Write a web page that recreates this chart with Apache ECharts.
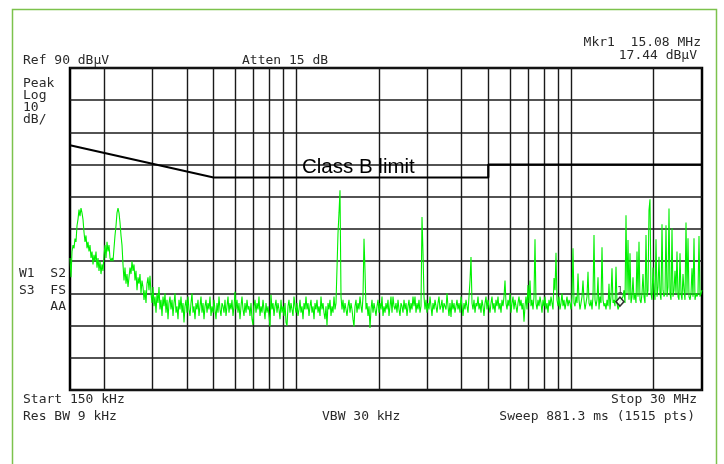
<!DOCTYPE html>
<html><head><meta charset="utf-8">
<script src="https://cdn.jsdelivr.net/npm/echarts@6/dist/echarts.min.js"></script>
<style>html,body{margin:0;padding:0;background:#fff}#c{width:724px;height:464px}</style>
</head><body><div id="c"></div>
<script>
// Frequency axis (MHz, log) and level axis (dBµV)
const freqStartMHz = 0.15, freqStopMHz = 30;
const levelMin = -10, levelMax = 90, levelStep = 10;
const gridFreqsMHz = [0.2,0.3,0.4,0.5,0.6,0.7,0.8,0.9,1,2,3,4,5,6,7,8,9,10,20];

// Class B limit
const limitFreqMHz = [0.15, 0.5, 5, 5, 30];
const limitDbuv    = [66,   56,  56, 60, 60];

// Marker
const markerFreqMHz = 15.08, markerDbuv = 17.44;

// Trace (sweep points, log-spaced from start to stop), dBµV
const traceDbuv = [
 31,25,33,35,34,37,36,41,43,46,
 44,46.5,45,43,39,36,38,34,36,33,
 35,31,33,29,32,30,33,28,31,27,
 30,26,29,27,32,35,31,36,33,35,
 31,30,31,30,34,38,41,45,46.5,45,
 42,38,35,29,24,28,23,26,22,25,
 28,26,30,27,29,24,27,21,25,23,
 26,20,24,22,18,21,17,23,25,21,
 25.5,20,17,22,16,19,14,20,17,22,
 15,18,13,19,16,20,14,18,12,17,
 19,15,18,13,17,20,14,16,12,18,
 15,19,14,17,11,16,18,14,19,15,
 13,17,20,14,16,12,17,
 15,18,13,16,19,14,17,12,16,18,
 14,17,15,19,13,16,14,18,15,12,
 17,14,19,15,13,17,16,14,18,13,
 16,19,14,17,15,18,13,16,20.5,15,
 18,14,17,12,16,19,15,13,17,14,
 18,15,16,13,17,12,10.2,16,18,14,
 17,15,19,13,16,14,18,15,12,17,
 14,16,13,9.7,19.6,15,17,13,16,18,
 14,17,15,12,18,14,16,13,17,11,
 10,16,18,14,17,15,13,19,16,14,
 17,13,15,18,14,16,12,17,15,19,
 15,17,13,16,18,14,16,12,17,15,
 18,14,16,13,19,15,17,14,12,16,
 10,17,15,18,13,16,14,19,15,17,
 17,38.7,45,52,19,15,18,14,17,15,
 13,16,18,14,17,15,12,9.7,16,18,
 14,17,15,19,16,14,19,37,27,15,
 17,13,16,9.3,15,18,14,17,15,13,
 16,18,14,17,15,19,13,16,14,17,
 15,18,13,16,19,14,19,16,15,17,
 14,18,15,13,17,16,14,18,15,17,
 13,16,18,14,17,15,19,16,19,14,
 17,15,18,14,16,43.7,32.6,19,15,18,
 14,17,15,19,16,13,17,15,18,16,
 14,17,19,15,16,18,14,17,16,15,
 20,16,13,17,12.7,18,15,17,14,16,
 18,15,17,14,19,16,13,17,15,18,
 16,14,19,24,31.3,17,15,18,14,17,
 16,19,15,17,14,18,16,13,17,19,
 15,18,16,14,17,19,15,17,14,18,
 16,19,15,17,14,18,16,19,24,17,
 15,18,16,20,14,17,19,15,18,16,
 14,17,19,16,18,15,17,11.2,16,19,
 15,22.6,17,24,16,18,15,19,36.8,17,
 15,18,16,19,17,14,18,16,19,15,
 17,14,18,16,19,17,15,24.8,21,32.6,
 18,16,19,15,17,20,16,18,15,17,
 19,16,18,17,15,19,34,17,16,19,
 17,26.2,18,15,17,19,24,18,15,17,
 19,26.7,17,16,18,15,19,38.1,18,16,
 18,25,15,19,17,34.3,18,16,17,15,
 18,16,23,15,19,27.8,17,18,16,28.3,
 17,15,16,17.4,18,17,19,21,17,44.3,
 20,36.6,18,32.5,17,19,25,18,20,17,
 33,19,36,18,17,20,26,19,17,38.1,
 19,21,45.9,49.2,20,18,28,21,18,36.8,
 19,22,31.4,20,18,41.5,21,19,20,41.2,
 19,22,46.4,20,18,40.2,19,21,27,20,
 33,19,18,32.5,20,18,26,21,18,42,
 20,37.1,19,18,20,27.8,19,37.1,18,20,
 19,20,37.8,19,20,21
];

// Annotation texts
const textsLeft = [
 ['Ref 90 dBµV', 23, 61], ['Atten 15 dB', 242, 61],
 ['Peak', 23, 84], ['Log', 23, 96], ['10', 23, 108], ['dB/', 23, 120],
 ['Start 150 kHz', 23, 400], ['Res BW 9 kHz', 23, 417], ['VBW 30 kHz', 322, 417]
];
const textsRight = [
 ['Mkr1  15.08 MHz', 701, 43], ['17.44 dBµV', 697, 56],
 ['W1  S2', 66, 274], ['S3  FS', 66, 291], ['AA', 66, 307],
 ['Stop 30 MHz', 697, 400], ['Sweep 881.3 ms (1515 pts)', 695, 417]
];
const limitLabel = 'Class B limit';

const monoFont = '13px "DejaVu Sans Mono"';
function txt(t, x, y, align) {
  return {type:'text', x:x, y:y, z:100, silent:true,
    style:{text:t, font:monoFont, fill:'#2a2a2a', textAlign:align, align:align,
           textVerticalAlign:'middle', verticalAlign:'middle'}};
}
const graphics = [
  {type:'rect', shape:{x:12.5, y:9.5, width:704, height:490}, z:-1, silent:true,
   style:{fill:'none', stroke:'#7cc24c', lineWidth:1.5}}
];
textsLeft.forEach(a => graphics.push(txt(a[0], a[1], a[2], 'left')));
textsRight.forEach(a => graphics.push(txt(a[0], a[1], a[2], 'right')));
graphics.push({type:'text', x:302, y:167, z:100, silent:true,
  style:{text:limitLabel, font:'20.5px "Liberation Sans", Arial, sans-serif', fill:'#000',
         textAlign:'left', align:'left', textVerticalAlign:'middle', verticalAlign:'middle'}});

const traceIdx = traceDbuv.map((_, i) => i);

const chart = echarts.init(document.getElementById('c'));
chart.setOption({
  animation:false,
  backgroundColor:'#fff',
  grid:{left:70, top:68, width:632, height:322, show:true, borderColor:'#000', borderWidth:2.5, backgroundColor:'transparent'},
  xAxis:[
    {type:'log', logBase:10, min:freqStartMHz, max:freqStopMHz,
     axisLine:{show:false}, axisTick:{show:false}, axisLabel:{show:false}, splitLine:{show:false}},
    {type:'category', data:traceIdx, boundaryGap:false, show:false}
  ],
  yAxis:{type:'value', min:levelMin, max:levelMax, interval:levelStep,
    axisLine:{show:false}, axisTick:{show:false}, axisLabel:{show:false},
    splitLine:{show:true, lineStyle:{color:'#1a1a1a', width:1.5}}},
  graphic: graphics,
  series:[
    {type:'line', name:'trace', xAxisIndex:1, data:traceDbuv, showSymbol:false, z:3,
     lineStyle:{color:'#00f000', width:1.1}, itemStyle:{color:'#00f000'}},
    {type:'line', name:'limit', xAxisIndex:0, data:limitFreqMHz.map((f,i)=>[f, limitDbuv[i]]),
     showSymbol:false, z:4, lineStyle:{color:'#000', width:2.2}, itemStyle:{color:'#000'},
     markLine:{silent:true, symbol:['none','none'], label:{show:false}, z:1,
       lineStyle:{color:'#1a1a1a', width:1.4, type:'solid'},
       data:gridFreqsMHz.map(f => ({xAxis:f}))}},
    {type:'scatter', name:'marker', xAxisIndex:0, data:[[markerFreqMHz, markerDbuv]], z:5,
     symbol:'diamond', symbolSize:[8,9],
     itemStyle:{color:'#fff', borderColor:'#000', borderWidth:1.5},
     label:{show:true, formatter:'1', position:'top', distance:1, fontSize:9, color:'#000', fontFamily:'DejaVu Sans Mono'}}
  ]
});
</script></body></html>
